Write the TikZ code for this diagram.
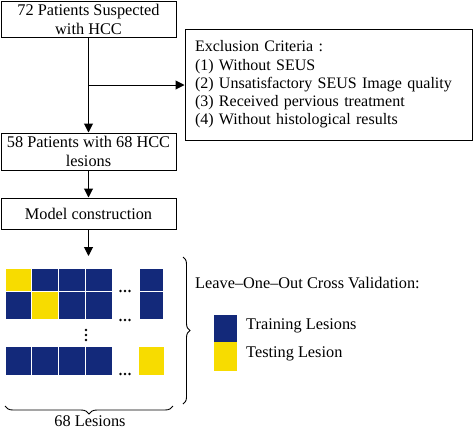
\documentclass[tikz,border=0pt]{standalone}
\usepackage{fontspec}
\setmainfont{Liberation Serif}
\usetikzlibrary{arrows.meta,decorations.pathreplacing}
\definecolor{navy}{HTML}{13297A}
\definecolor{yel}{HTML}{F7DC00}
\begin{document}
\begin{tikzpicture}[x=1pt,y=-1pt,
  box/.style={draw, line width=1pt, minimum width=175pt, inner sep=0pt, align=center, font=\fontsize{16.3}{19}\selectfont},
  arr/.style={line width=1pt, -{Triangle[length=9pt,width=9pt]}},
  lbl/.style={font=\fontsize{16.3}{19}\selectfont, inner sep=0pt},
  brc/.style={line width=0.9pt, decorate, decoration={brace, amplitude=#1}}]
\useasboundingbox (0,0) rectangle (473,429);
\node[box, minimum height=36pt] (b1) at (88.5,19) {72 Patients Suspected\\with HCC};
\node[box, minimum height=37pt] (b2) at (88.5,151.5) {58 Patients with 68 HCC\\lesions};
\node[box, minimum height=31pt] (b3) at (88.5,213.5) {Model construction};
\node[draw, line width=1pt, minimum width=287pt, minimum height=111pt, text width=267pt, inner xsep=10pt, inner ysep=0pt, align=left, font=\fontsize{16}{18.25}\selectfont] (ex) at (328.5,84.5)
  {Exclusion Criteria :\\(1) Without SEUS\\(2) Unsatisfactory SEUS Image quality\\(3) Received pervious treatment\\(4) Without histological results};
\draw[arr] (b1) -- (b2);
\coordinate (j) at (88.5,85);
\draw[arr] (j) -- (ex.west |- j);
\draw[arr] (b2) -- (b3);
\coordinate (gtop) at (88.5,256);
\draw[arr] (b3) -- (gtop);
% grid
\fill[yel]  (6,269) rectangle (31,291);
\fill[navy] (32,269) rectangle (58,291);
\fill[navy] (59,269) rectangle (85,291);
\fill[navy] (86,269) rectangle (112,291);
\fill[navy] (140,269) rectangle (163,291);
\fill[navy] (6,292) rectangle (31,319);
\fill[yel]  (32,292) rectangle (58,319);
\fill[navy] (59,292) rectangle (85,319);
\fill[navy] (86,292) rectangle (112,319);
\fill[navy] (140,292) rectangle (163,319);
\fill[navy] (6,347) rectangle (31,375);
\fill[navy] (32,347) rectangle (58,375);
\fill[navy] (59,347) rectangle (85,375);
\fill[navy] (86,347) rectangle (112,375);
\fill[yel]  (139,347) rectangle (164,375);
\foreach \yy in {291,320,374}{
  \foreach \xx in {120.5,125,129.5}{\fill (\xx,\yy) circle (1.3);}
}
\foreach \yy in {330,335,340}{\fill (86,\yy) circle (1.3);}
% braces
\draw[brc=8pt] (173,406) -- (5,406);
\draw[brc=7pt] (183,257) -- (183,404);
\node[lbl, anchor=north] (les) at (90,415.5) {68 Lesions};
% legend
\node[lbl, anchor=west] (loo) at (195,283) {Leave–One–Out Cross Validation:};
\fill[navy] (214,315) rectangle (237,342);
\fill[yel] (214,342) rectangle (237,371);
\node[lbl, anchor=west] (tr) at (246,326) {Training Lesions};
\node[lbl, anchor=west] (ts) at (246,354) {Testing Lesion};
\end{tikzpicture}
\end{document}
